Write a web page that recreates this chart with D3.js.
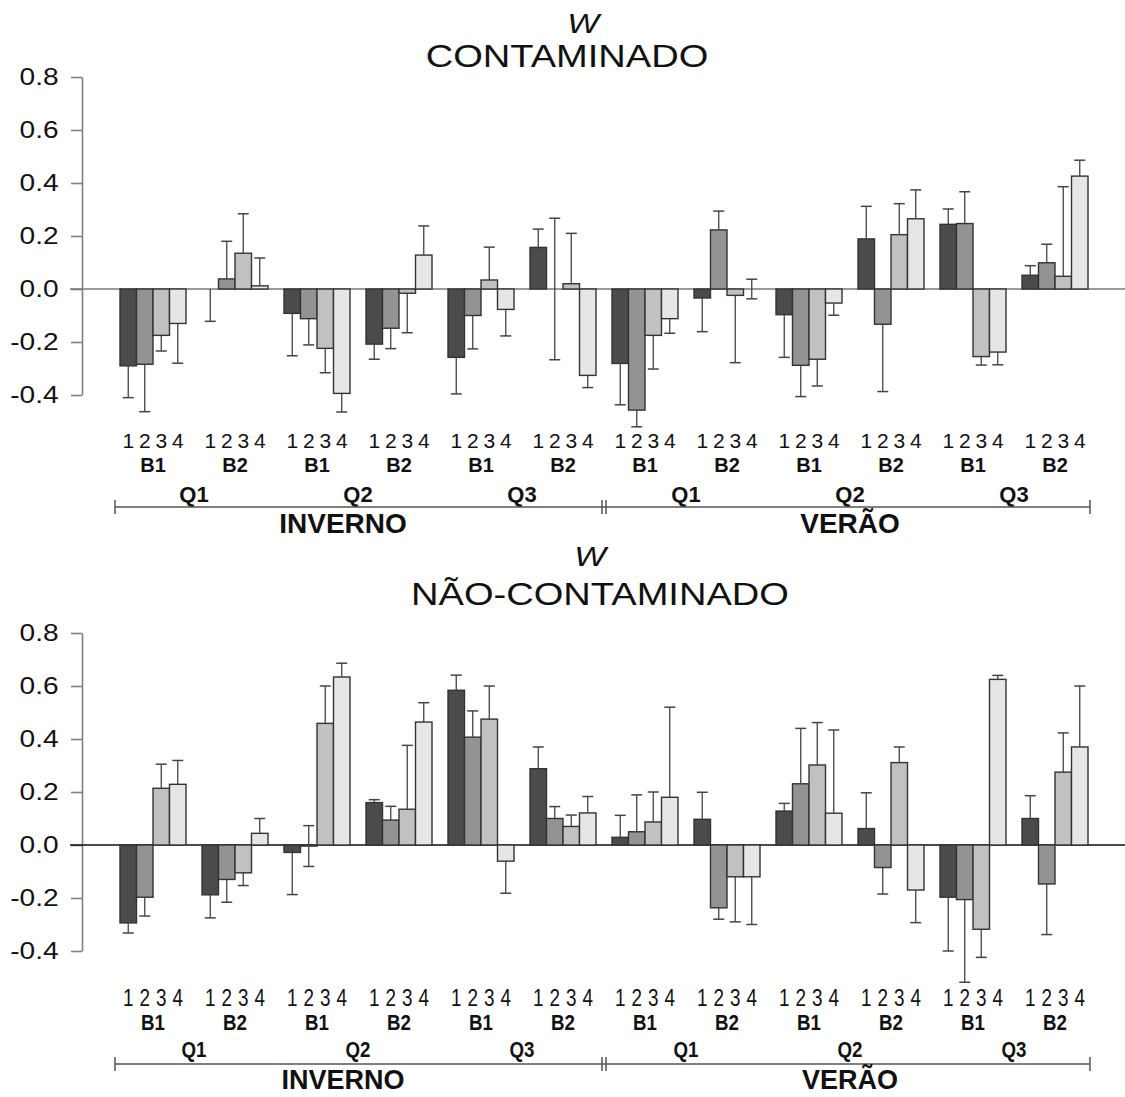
<!DOCTYPE html>
<html>
<head>
<meta charset="utf-8">
<script src="https://cdn.jsdelivr.net/npm/d3@7"></script>
<style>
body { margin: 0; background: #fff; }
svg text { font-family: "Liberation Sans", Arial, sans-serif; fill: #111; }
</style>
</head>
<body>
<div id="chart"></div>
<script>
var seasons = ["INVERNO", "VERÃO"];
var quarters = ["Q1", "Q2", "Q3"];
var blocks = ["B1", "B2"];
var sites = ["1", "2", "3", "4"];
var yTicks = [-0.4, -0.2, 0.0, 0.2, 0.4, 0.6, 0.8];

// W means, 12 groups (season > quarter > block) x 4 sites
var contMean = [
  -0.29, -0.284, -0.175, -0.13,
  0.0, 0.038, 0.135, 0.012,
  -0.092, -0.112, -0.224, -0.394,
  -0.208, -0.148, -0.016, 0.128,
  -0.258, -0.1, 0.034, -0.077,
  0.157, 0.0, 0.02, -0.326,
  -0.281, -0.457, -0.175, -0.112,
  -0.034, 0.223, -0.024, 0.0,
  -0.097, -0.288, -0.265, -0.053,
  0.189, -0.133, 0.205, 0.265,
  0.244, 0.247, -0.255, -0.238,
  0.052, 0.099, 0.048, 0.426
];
// end of the error whisker
var contErr = [
  -0.41, -0.463, -0.234, -0.28,
  -0.122, 0.18, 0.284, 0.117,
  -0.252, -0.211, -0.316, -0.464,
  -0.265, -0.225, -0.165, 0.238,
  -0.396, -0.226, 0.158, -0.177,
  0.226, 0.267, 0.21, -0.372,
  -0.437, -0.52, -0.302, -0.167,
  -0.161, 0.294, -0.278, 0.037,
  -0.258, -0.406, -0.366, -0.099,
  0.312, -0.387, 0.322, 0.374,
  0.302, 0.367, -0.287, -0.286,
  0.088, 0.169, 0.386, 0.486
];
var contBoth = [21, 31];   // whiskers drawn both ways

var naoMean = [
  -0.294, -0.197, 0.214, 0.229,
  -0.188, -0.13, -0.105, 0.044,
  -0.028, -0.004, 0.459, 0.634,
  0.16, 0.094, 0.135, 0.464,
  0.584, 0.407, 0.475, -0.061,
  0.288, 0.1, 0.07, 0.121,
  0.029, 0.05, 0.087, 0.18,
  0.097, -0.237, -0.12, -0.12,
  0.128, 0.231, 0.302, 0.12,
  0.062, -0.085, 0.311, -0.17,
  -0.197, -0.206, -0.318, 0.625,
  0.1, -0.147, 0.275, 0.37
];
var naoErr = [
  -0.332, -0.268, 0.305, 0.319,
  -0.275, -0.216, -0.153, 0.1,
  -0.187, 0.073, 0.6, 0.686,
  0.171, 0.146, 0.376, 0.537,
  0.641, 0.506, 0.6, -0.182,
  0.37, 0.145, 0.113, 0.183,
  0.112, 0.189, 0.2, 0.52,
  0.199, -0.28, -0.29, -0.3,
  0.157, 0.44, 0.462, 0.434,
  0.197, -0.185, 0.37, -0.293,
  -0.40, -0.518, -0.424, 0.64,
  0.186, -0.338, 0.423, 0.6
];
var naoBoth = [9];

var panels = [
  {title: "CONTAMINADO", mean: contMean, err: contErr, both: contBoth,
   wY: 33, wX: 583, tY: 67, tX: 567, yRange: [395, 77], zeroColor: "#7a7a7a",
   digitY: 448, digitSize: 21, digitSx: 1, bY: 472, bSize: 20, qY: 502, qSize: 22, lblSx: 1,
   brY: 507, sY: 533, sSize: 28},
  {title: "NÃO-CONTAMINADO", mean: naoMean, err: naoErr, both: naoBoth,
   wY: 566, wX: 590, tY: 605, tX: 600, yRange: [951, 633], zeroColor: "#111",
   digitY: 1006, digitSize: 23, digitSx: 0.82, bY: 1030, bSize: 22, qY: 1057, qSize: 22, lblSx: 0.85,
   brY: 1064, sY: 1089, sSize: 27}
];

var svg = d3.select("#chart").append("svg")
    .attr("width", 1125)
    .attr("height", 1097);

var groups = [];
seasons.forEach(function(s) {
  quarters.forEach(function(q) {
    blocks.forEach(function(b) {
      groups.push({season: s, quarter: q, block: b, key: s + q + b});
    });
  });
});

var x = d3.scaleBand()
    .domain(groups.map(function(d) { return d.key; }))
    .range([112, 1096])
    .paddingInner(16 / 82)
    .paddingOuter(8 / 82);
var xs = d3.scaleBand().domain(sites).range([0, x.bandwidth()]);
var color = d3.scaleOrdinal().domain(sites).range(["#4b4b4b", "#939393", "#c1c1c1", "#e6e6e6"]);

function addText(g, tx, ty, txt, size, sx, weight, style) {
  return g.append("text")
    .attr("transform", "translate(" + tx + "," + ty + ") scale(" + sx + ",1)")
    .attr("text-anchor", "middle")
    .style("font-size", size + "px")
    .style("font-weight", weight || "normal")
    .style("font-style", style || "normal")
    .text(txt);
}

panels.forEach(function(p) {
  var g = svg.append("g");
  var y = d3.scaleLinear().domain([-0.4, 0.8]).range(p.yRange);

  addText(g, p.wX, p.wY, "W", 28, 1.2, "normal", "italic");
  addText(g, p.tX, p.tY, p.title, 32, 1.19);

  var ax = g.append("g")
      .attr("transform", "translate(82,0)")
      .call(d3.axisLeft(y).tickValues(yTicks).tickSize(11).tickSizeOuter(0).tickPadding(9)
        .tickFormat(function(d) { return d.toFixed(1); }));
  ax.select(".domain").attr("stroke", "#808080").attr("stroke-width", 1.6);
  ax.selectAll(".tick line").attr("stroke", "#808080").attr("stroke-width", 1.6);
  ax.selectAll(".tick text")
    .style("font-size", "24px")
    .attr("transform", "scale(1.17,1)");

  g.append("line")
    .attr("x1", 70).attr("x2", 1125)
    .attr("y1", y(0)).attr("y2", y(0))
    .attr("stroke", p.zeroColor).attr("stroke-width", 1.4);

  var bars = [];
  groups.forEach(function(gr, gi) {
    sites.forEach(function(s, si) {
      var i = gi * 4 + si;
      bars.push({i: i, group: gr, site: s, v: p.mean[i], e: p.err[i], both: p.both.indexOf(i) >= 0});
    });
  });

  g.selectAll(".bar").data(bars).enter().append("rect")
    .attr("class", "bar")
    .attr("x", function(d) { return x(d.group.key) + xs(d.site); })
    .attr("width", xs.bandwidth())
    .attr("y", function(d) { return Math.min(y(d.v), y(0)); })
    .attr("height", function(d) { return Math.abs(y(d.v) - y(0)); })
    .attr("fill", function(d) { return color(d.site); })
    .attr("stroke", "#333")
    .attr("stroke-width", 1.4);

  var eb = g.selectAll(".err").data(bars).enter().append("g").attr("class", "err")
    .attr("transform", function(d) { return "translate(" + (x(d.group.key) + xs(d.site) + xs.bandwidth() / 2) + ",0)"; });
  eb.append("line")
    .attr("y1", function(d) { return d.both ? y(2 * d.v - d.e) : y(d.v); })
    .attr("y2", function(d) { return y(d.e); })
    .attr("stroke", "#444").attr("stroke-width", 1.3);
  eb.append("line")
    .attr("x1", -5.5).attr("x2", 5.5)
    .attr("y1", function(d) { return y(d.e); })
    .attr("y2", function(d) { return y(d.e); })
    .attr("stroke", "#444").attr("stroke-width", 1.5);
  eb.filter(function(d) { return d.both; }).append("line")
    .attr("x1", -5.5).attr("x2", 5.5)
    .attr("y1", function(d) { return y(2 * d.v - d.e); })
    .attr("y2", function(d) { return y(2 * d.v - d.e); })
    .attr("stroke", "#444").attr("stroke-width", 1.5);

  // category labels
  bars.forEach(function(d) {
    addText(g, x(d.group.key) + xs(d.site) + xs.bandwidth() / 2, p.digitY, d.site, p.digitSize, p.digitSx);
  });
  groups.forEach(function(gr) {
    addText(g, x(gr.key) + x.bandwidth() / 2, p.bY, gr.block, p.bSize, p.lblSx, "bold");
  });
  seasons.forEach(function(s) {
    quarters.forEach(function(q) {
      var ks = blocks.map(function(b) { return x(s + q + b); });
      var cx = (d3.min(ks) + d3.max(ks) + x.bandwidth()) / 2;
      addText(g, cx, p.qY, q, p.qSize, p.lblSx, "bold");
    });
  });

  // season bracket
  var bw = x.bandwidth();
  var left = x(groups[0].key) - 5;
  var right = x(groups[groups.length - 1].key) + bw + 2;
  var mid = (x(groups[5].key) + bw + x(groups[6].key)) / 2;
  var br = g.append("g").attr("stroke", "#555").attr("stroke-width", 1.5);
  br.append("line").attr("x1", left).attr("x2", right).attr("y1", p.brY).attr("y2", p.brY);
  [left, mid - 2, mid + 2, right].forEach(function(bx) {
    br.append("line").attr("x1", bx).attr("x2", bx).attr("y1", p.brY - 7).attr("y2", p.brY + 7);
  });
  var seasonDx = [-15, 0];
  seasons.forEach(function(s, si) {
    var first = x(groups[si * 6].key), last = x(groups[si * 6 + 5].key) + bw;
    addText(g, (first + last) / 2 + seasonDx[si], p.sY, s, p.sSize, 1, "bold");
  });
});
</script>
</body>
</html>
